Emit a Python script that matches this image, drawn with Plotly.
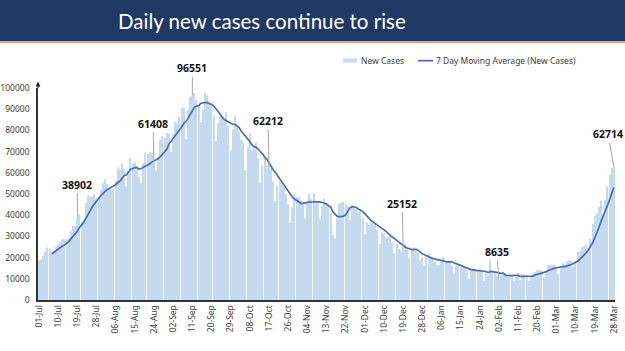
import pandas as pd
import plotly.graph_objects as go

# ---------------- data ----------------
START_DATE = "2020-07-01"
END_DATE = "2021-03-28"

JUL = [18653, 19148, 20903, 22771, 24850, 24248, 22252, 22752, 24879, 26506,
       27114, 28637, 28701, 28498, 29429, 32695, 34956, 34884, 38902, 40425,
       37148, 37724, 45720, 49310, 48916, 48661, 49931, 47703, 48513, 52123, 55079]
AUG = [57118, 54735, 52972, 52050, 52509, 56282, 62538, 61537, 64399, 62064,
       53601, 60963, 66999, 64553, 65002, 63490, 57982, 55079, 64531, 69652,
       68898, 69878, 69239, 61408, 60975, 67151, 75760, 77266, 76472, 78761, 78512]
SEP = [69921, 78357, 83883, 83341, 86432, 90632, 90802, 75809, 89706, 95735,
       96551, 97570, 94372, 92071, 83809, 90123, 97894, 96424, 93337, 92605,
       86961, 75083, 83347, 86508, 86052, 85362, 88600, 82170, 70589, 80472]
OCT = [86821, 81484, 79476, 75829, 74442, 61267, 72049, 78524, 70496, 73272,
       74383, 66732, 55342, 63509, 67708, 63371, 62212, 61871, 55722, 46790,
       54044, 55839, 54366, 53370, 50129, 45148, 36469, 43893, 49881, 48648, 48268]
NOV = [46963, 45231, 38310, 46253, 50209, 47638, 50356, 45674, 45903, 38073,
       44281, 47905, 44878, 44684, 41100, 30548, 29163, 38617, 45576, 45882,
       46232, 45209, 44059, 37975, 44376, 44489, 43082, 41322, 41810, 38772]
DEC = [31118, 36604, 35551, 36595, 36652, 36011, 32981, 26567, 32080, 31521,
       29398, 30006, 30254, 27071, 22065, 26382, 24010, 22890, 25152, 26624,
       24337, 19556, 23950, 24712, 23067, 22273, 18732, 20021, 16432, 20550, 21822]
JAN = [20036, 19078, 18177, 16504, 16375, 18088, 20346, 18139, 18222, 18645,
       16311, 12584, 15968, 16946, 15590, 15158, 15144, 13788, 10064, 13823,
       15223, 14545, 14256, 14849, 13203, 9102, 12689, 11666, 18855, 13083, 13052]
FEB = [11427, 8635, 11039, 12899, 12408, 11713, 12059, 11831, 9110, 11067,
       12923, 9309, 12143, 12194, 11649, 9121, 11610, 12881, 13193, 13993,
       14264, 14199, 10584, 13742, 16738, 16577, 16488, 16752]
MAR = [15510, 12286, 14989, 17407, 16838, 18327, 18711, 18599, 15388, 17921,
       22854, 23285, 24882, 25320, 26291, 24492, 28903, 35871, 39726, 40953,
       43846, 46951, 40715, 47262, 53476, 59118, 62258, 62714]

TICK_LABELS = ["01-Jul", "10-Jul", "19-Jul", "28-Jul", "06-Aug", "15-Aug", "24-Aug",
               "02-Sep", "11-Sep", "20-Sep", "29-Sep", "08-Oct", "17-Oct", "26-Oct",
               "04-Nov", "13-Nov", "22-Nov", "01-Dec", "10-Dec", "19-Dec", "28-Dec",
               "06-Jan", "15-Jan", "24-Jan", "02-Feb", "11-Feb", "20-Feb", "01-Mar",
               "10-Mar", "19-Mar", "28-Mar"]
Y_TICKS = [0, 10000, 20000, 30000, 40000, 50000, 60000, 70000, 80000, 90000, 100000]

ANNOT_DATES = ["19-Jul", "24-Aug", "11-Sep", "17-Oct", "19-Dec", "02-Feb", "28-Mar"]
ANNOT_VALUES = [38902, 61408, 96551, 62212, 25152, 8635, 62714]

TITLE = "Daily new cases continue to rise"
BAR_NAME = "New Cases"
LINE_NAME = "7 Day Moving Average (New Cases)"

# ---------------- build ----------------
new_cases = JUL + AUG + SEP + OCT + NOV + DEC + JAN + FEB + MAR
dates = pd.date_range(START_DATE, END_DATE, freq="D")
labels = [d.strftime("%d-%b") for d in dates]
series = pd.Series(new_cases, index=labels)
moving_avg = series.rolling(7).mean()

BAR_COLOR = "#c6daef"
LINE_COLOR = "#4a6eae"
TXT = "#404040"
FONT = "Noto Sans"

fig = go.Figure()
fig.add_trace(go.Bar(x=labels, y=new_cases, name=BAR_NAME, showlegend=False,
                     marker=dict(color=BAR_COLOR, line=dict(width=0))))
fig.add_trace(go.Scatter(x=labels, y=moving_avg.values, name=LINE_NAME, mode="lines",
                         showlegend=False, line=dict(color=LINE_COLOR, width=1.7)))

# label offsets (pixels) for the callouts
offsets = [(0, -33), (-1, -46), (0, -27), (-1, -47), (-1, -43), (-2, -30), (-6, -33)]
for d, v, (ax, ay) in zip(ANNOT_DATES, ANNOT_VALUES, offsets):
    fig.add_annotation(x=d, y=v, text=f"<b>{v}</b>", showarrow=True, arrowhead=0,
                       arrowwidth=1, arrowcolor="#a6a6a6", ax=ax, ay=ay, standoff=0,
                       font=dict(family=FONT, size=10.5, color="#111111"))

# y axis arrow head
fig.add_annotation(xref="paper", yref="paper", x=0, y=1.03, ax=0, ay=8, text="",
                   showarrow=True, arrowhead=2, arrowsize=0.8, arrowwidth=1.2,
                   arrowcolor="#222222")

# custom legend (paper coords)
fig.add_shape(type="rect", xref="paper", yref="paper", x0=0.5286, x1=0.5529,
              y0=1.1203, y1=1.1392, fillcolor=BAR_COLOR, line=dict(width=0))
fig.add_annotation(xref="paper", yref="paper", x=0.5563, y=1.1288, text=BAR_NAME,
                   showarrow=False, xanchor="left", yanchor="middle",
                   font=dict(family=FONT, size=8.5, color=TXT))
fig.add_shape(type="line", xref="paper", yref="paper", x0=0.6586, x1=0.6846,
              y0=1.1288, y1=1.1288, line=dict(color=LINE_COLOR, width=1.7))
fig.add_annotation(xref="paper", yref="paper", x=0.6863, y=1.1288, text=LINE_NAME,
                   showarrow=False, xanchor="left", yanchor="middle",
                   font=dict(family=FONT, size=8.5, color=TXT))

# title banner
fig.add_shape(type="rect", xref="paper", yref="paper", x0=-0.07, x1=1.02,
              y0=1.222, y1=1.42, fillcolor="#1f3864", line=dict(width=0), layer="above")
fig.add_shape(type="rect", xref="paper", yref="paper", x0=-0.07, x1=1.02,
              y0=1.212, y1=1.222, fillcolor="#e8a07a", line=dict(width=0), layer="above")
fig.add_annotation(xref="paper", yref="paper", x=0.388, y=1.318, text=TITLE,
                   showarrow=False, xanchor="center", yanchor="middle",
                   font=dict(family="Lato", size=20.5, color="white"))

fig.update_layout(
    width=625, height=351,
    margin=dict(l=38, r=10, t=88, b=51),
    paper_bgcolor="white", plot_bgcolor="white",
    bargap=0.4,
    showlegend=False,
    xaxis=dict(type="category", range=[-0.5, len(labels) - 0.5],
               tickmode="array", tickvals=TICK_LABELS, ticktext=TICK_LABELS,
               tickangle=-90, tickfont=dict(family=FONT, size=8.5, color=TXT),
               showgrid=False, showline=True, linecolor="#333333", linewidth=1.5,
               ticks="", zeroline=False, automargin=False),
    yaxis=dict(range=[0, 100000], tickmode="array", tickvals=Y_TICKS,
               ticktext=[str(v) for v in Y_TICKS],
               tickfont=dict(family=FONT, size=8.5, color=TXT),
               showgrid=False, showline=True, linecolor="#333333", linewidth=1.5,
               ticks="", zeroline=False, ticklabelstandoff=5, automargin=False),
)

fig.write_html("out.html")
